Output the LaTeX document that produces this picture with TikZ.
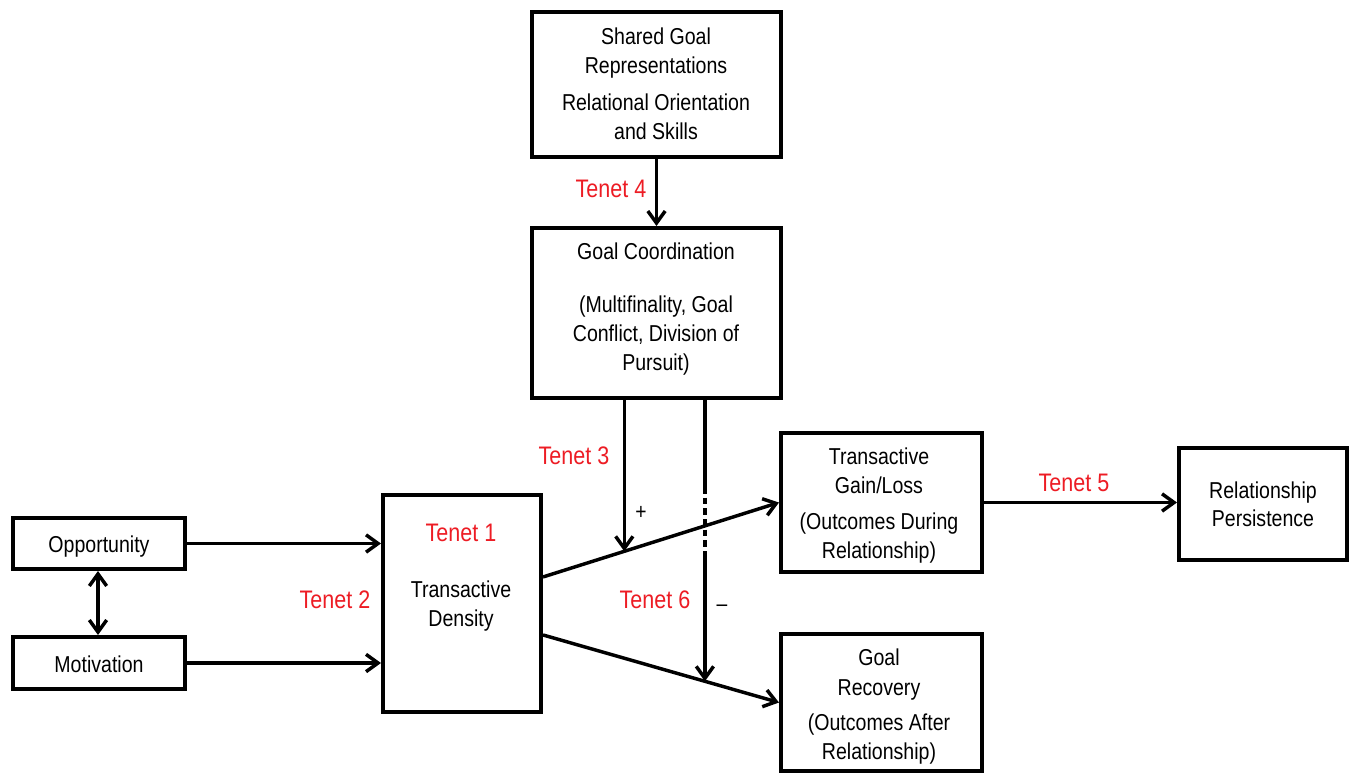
\documentclass[tikz,border=0pt]{standalone}
\usepackage{fontspec}
\setmainfont{Liberation Sans}[FakeStretch=0.85]
\usetikzlibrary{arrows.meta,calc}
\definecolor{tenetred}{HTML}{ED1C24}
\tikzset{
  box/.style={draw, line width=3pt, inner sep=0pt, fill=none},
  conn/.style={line width=2.6pt, -{Straight Barb[length=9pt,width=13pt]}},
  plain/.style={line width=2.6pt},
  txt/.style={anchor=base, inner sep=0pt, font=\fontsize{17.25}{21}\selectfont},
  tenet/.style={anchor=base, inner sep=0pt, text=tenetred, font=\fontsize{19}{23}\selectfont},
  sign/.style={inner sep=0pt, font=\fontsize{17}{20}\selectfont}
}
\newcommand\mkbox[5]{\node[box,minimum width={(#4-#2)*0.75pt},minimum height={(#5-#3)*0.75pt}] (#1) at ({(#2+#4)/2},{(#3+#5)/2}) {};}
\begin{document}
\begin{tikzpicture}[x=0.75pt,y=-0.75pt]
\useasboundingbox (0,0) rectangle (1350,774);
% boxes
\mkbox{sg}{532}{12}{781}{157}
\mkbox{gc}{532}{228}{781}{398}
\mkbox{opp}{13}{518}{185}{569}
\mkbox{mot}{13}{637}{185}{689}
\mkbox{td}{383}{495}{541}{712}
\mkbox{gain}{781}{433}{982}{572}
\mkbox{rec}{781}{634}{982}{771}
\mkbox{per}{1179}{448}{1347}{560}
% box texts
\node[txt] (sg1) at (656,45) {Shared Goal};
\node[txt] (sg2) at (656,74) {Representations};
\node[txt] (sg3) at (656,110) {Relational Orientation};
\node[txt] (sg4) at (656,139) {and Skills};
\node[txt] (gc1) at (656,259) {Goal Coordination};
\node[txt] (gc2) at (656,312) {(Multifinality, Goal};
\node[txt] (gc3) at (656,341) {Conflict, Division of};
\node[txt] (gc4) at (656,370) {Pursuit)};
\node[txt] (opp1) at (99,552) {Opportunity};
\node[txt] (mot1) at (99,672) {Motivation};
\node[txt] (td1) at (461,597) {Transactive};
\node[txt] (td2) at (461,626) {Density};
\node[txt] (gn1) at (879,464) {Transactive};
\node[txt] (gn2) at (879,493) {Gain/Loss};
\node[txt] (gn3) at (879,529) {(Outcomes During};
\node[txt] (gn4) at (879,558) {Relationship)};
\node[txt] (rc1) at (879,665) {Goal};
\node[txt] (rc2) at (879,695) {Recovery};
\node[txt] (rc3) at (879,730) {(Outcomes After};
\node[txt] (rc4) at (879,759) {Relationship)};
\node[txt] (pe1) at (1263,498) {Relationship};
\node[txt] (pe2) at (1263,526) {Persistence};
% tenet labels
\node[tenet] (t1) at (461,541) {Tenet 1};
\node[tenet] (t2) at (335,608) {Tenet 2};
\node[tenet] (t3) at (574,464) {Tenet 3};
\node[tenet] (t4) at (611,197) {Tenet 4};
\node[tenet] (t5) at (1074,491) {Tenet 5};
\node[tenet] (t6) at (655,608) {Tenet 6};
\node[sign] (plus) at (641,513) {+};
\node[sign] (minus) at (722,608) {–};
% connectors
\draw[conn] (sg.south) -- (gc.north);
\draw[conn] (opp.east) -- (opp.east -| td.west);
\draw[conn] (mot.east) -- (mot.east -| td.west);
\draw[line width=2.6pt, {Straight Barb[length=9pt,width=13pt]}-{Straight Barb[length=9pt,width=13pt]}] (opp.south -| 98,0) -- (mot.north -| 98,0);
\coordinate (u1) at ([yshift=19.9pt]td.east);
\coordinate (l1) at ([yshift=-23.6pt]td.east);
\draw[conn] (u1) -- (gain.west);
\draw[conn] (l1) -- (rec.west);
\draw[conn] (gain.east) -- (gain.east -| per.west);
% moderators
\coordinate (m1) at ($(u1)!0.3445!(gain.west)$);
\coordinate (m2) at ($(l1)!0.686!(rec.west)$);
\draw[conn] (gc.south -| m1) -- (m1);
\coordinate (d1) at (m2 |- 0,487);
\coordinate (d2) at (m2 |- 0,553);
\draw[plain] (gc.south -| m2) -- (d1);
\draw[plain, dash pattern=on 5pt off 3pt] (d1) -- (d2);
\draw[conn] (d2) -- (m2);
\end{tikzpicture}
\end{document}
